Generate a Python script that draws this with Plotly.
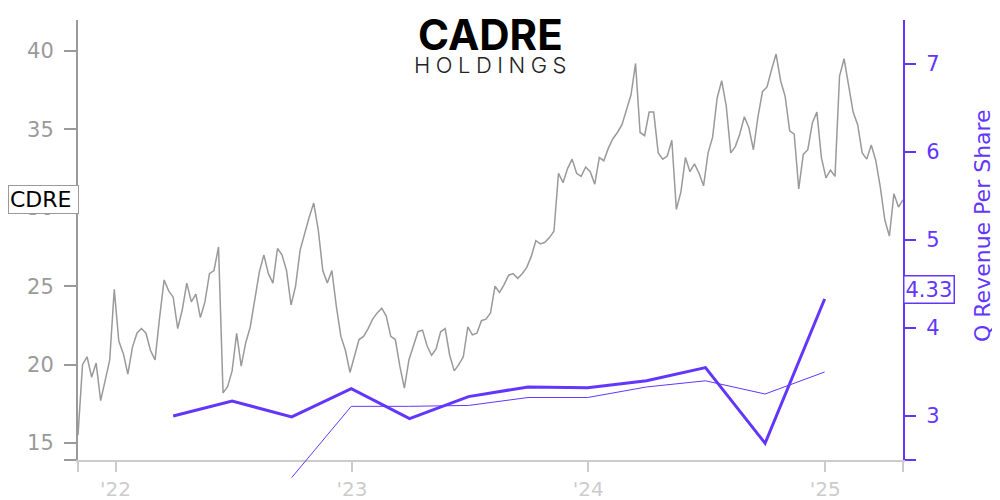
import plotly.graph_objects as go
import pandas as pd

# ---------------- data ----------------
price_start = "2021-11-04"
cdre_price = [
    15.5, 20.0, 20.5, 19.2, 20.1, 17.7, 19.0, 20.3, 24.8, 21.5,
    20.7, 19.4, 21.1, 22.0, 22.3, 22.0, 20.9, 20.3, 23.0, 25.4,
    24.7, 24.3, 22.3, 23.5, 25.2, 24.0, 24.5, 23.0, 24.0, 25.8,
    26.0, 27.5, 18.2, 18.6, 19.6, 22.0, 19.9, 21.4, 22.4, 24.3,
    25.9, 27.0, 25.8, 25.2, 27.4, 27.0, 26.0, 23.8, 25.0, 27.3,
    28.4, 29.4, 30.3, 28.6, 26.0, 25.2, 26.0, 23.7, 21.8, 20.9,
    19.5, 20.5, 21.6, 21.8, 22.3, 22.9, 23.3, 23.6, 23.1, 21.8,
    21.6, 19.9, 18.5, 20.3, 21.2, 22.1, 22.2, 21.2, 20.6, 21.0,
    22.1, 22.3, 20.6, 19.6, 20.0, 20.5, 22.4, 21.9, 22.0, 22.8,
    22.9, 23.3, 25.0, 24.6, 25.1, 25.7, 25.8, 25.5, 25.8, 26.2,
    26.9, 27.9, 27.7, 27.8, 28.1, 28.5, 32.2, 31.6, 32.5, 33.1,
    32.2, 32.0, 32.6, 32.3, 31.5, 33.2, 33.0, 33.8, 34.4, 34.8,
    35.3, 36.2, 37.2, 39.2, 34.8, 34.6, 36.1, 36.1, 33.5, 33.1,
    33.3, 34.3, 29.9, 31.0, 33.2, 32.3, 32.8, 32.2, 31.4, 33.5,
    34.5, 37.0, 38.1, 36.5, 33.5, 33.9, 34.7, 35.8, 35.1, 33.7,
    35.8, 37.4, 37.7, 38.8, 39.8, 38.1, 37.1, 34.9, 34.7, 31.2,
    33.4, 33.7, 35.4, 36.1, 33.2, 31.9, 32.4, 32.0, 38.4, 39.5,
    37.7, 36.1, 35.3, 33.5, 33.1, 34.0, 33.0, 31.3, 29.2, 28.2,
    30.9, 30.05, 30.5,
]
price_dates = pd.date_range(price_start, periods=len(cdre_price), freq="7D")

quarter_dates = [
    "2022-03-31", "2022-06-30", "2022-09-30", "2022-12-31",
    "2023-03-31", "2023-06-30", "2023-09-30", "2023-12-31",
    "2024-03-31", "2024-06-30", "2024-09-30", "2024-12-31",
]
rev_per_share = [3.00, 3.17, 2.99, 3.31, 2.97, 3.22, 3.33, 3.32, 3.40, 3.55, 2.69, 4.33]
avg_dates = quarter_dates[2:]
avg_rev_per_share = [2.30, 3.11, 3.11, 3.12, 3.21, 3.21, 3.33, 3.40, 3.25, 3.50]

year_ticks = ["2022-01-01", "2023-01-01", "2024-01-01", "2025-01-01"]
year_labels = ["'22", "'23", "'24", "'25"]
left_ticks = [15, 20, 25, 30, 35, 40]
right_ticks = [3, 4, 5, 6, 7]

# ---------------- style / layout (screen pixel coordinates) ----------------
OFF = 8                      # page body margin
SCREEN_W, SCREEN_H = 1000, 500
W, H = SCREEN_W - OFF, SCREEN_H - OFF
PLOT_L, PLOT_R, PLOT_T = 78, 903, 20   # screen px of plot area
AXIS_Y = 460                            # screen px of x-axis line
PLOT_B = 485                            # bottom of (extended) plot area

M_L, M_R, M_T, M_B = PLOT_L - OFF, SCREEN_W - PLOT_R, PLOT_T - OFF, SCREEN_H - PLOT_B

PURPLE = "#6236FF"
GREY = "#9a9a9a"
LIGHT = "#cccccc"
FONT = "DejaVu Sans"

plot_w = PLOT_R - PLOT_L
plot_h = PLOT_B - PLOT_T
main_bottom = (PLOT_B - AXIS_Y) / plot_h

left_range = [13.92, 41.97]
right_range = [2.5, 7.5]
px_per_unit = (AXIS_Y - PLOT_T) / (right_range[1] - right_range[0])
y3_range = [right_range[1] - plot_h / px_per_unit, right_range[1]]


def px_x(x):
    return (x - PLOT_L) / plot_w


def px_y(y):
    return (PLOT_B - y) / plot_h


x_range = [price_dates[0], price_dates[-1]]

fig = go.Figure()
fig.add_trace(go.Scatter(
    x=price_dates, y=cdre_price, mode="lines",
    line=dict(color=GREY, width=1.5), xaxis="x", yaxis="y", showlegend=False,
))
fig.add_trace(go.Scatter(
    x=avg_dates, y=avg_rev_per_share, mode="lines",
    line=dict(color=PURPLE, width=1), xaxis="x", yaxis="y3", showlegend=False,
))
fig.add_trace(go.Scatter(
    x=quarter_dates, y=rev_per_share, mode="lines",
    line=dict(color=PURPLE, width=3), xaxis="x", yaxis="y2", showlegend=False,
))

fig.update_layout(
    width=W, height=H,
    margin=dict(l=M_L, r=M_R, t=M_T, b=M_B, autoexpand=False),
    paper_bgcolor="white", plot_bgcolor="rgba(0,0,0,0)",
    font=dict(family=FONT),
    xaxis=dict(
        range=x_range, domain=[0, 1], anchor="y",
        showgrid=False, zeroline=False,
        showline=True, linecolor=LIGHT, linewidth=2,
        ticks="outside", ticklen=10, tickwidth=2, tickcolor=LIGHT,
        tickvals=[x_range[0]] + year_ticks + [x_range[1]],
        ticktext=[""] + year_labels + [""],
        tickfont=dict(color=LIGHT, size=20, family=FONT),
    ),
    yaxis=dict(
        range=left_range, domain=[main_bottom, 1], anchor="x",
        showgrid=False, zeroline=False,
        showline=True, linecolor=GREY, linewidth=2,
        ticks="outside", ticklen=12, tickwidth=2, tickcolor=GREY,
        tickvals=[left_range[0]] + left_ticks,
        ticktext=[""] + [str(v) for v in left_ticks],
        tickfont=dict(color=GREY, size=21, family=FONT),
        ticklabelstandoff=6,
    ),
    yaxis2=dict(
        range=right_range, overlaying="y", side="right", anchor="x",
        showgrid=False, zeroline=False,
        showline=True, linecolor=PURPLE, linewidth=2,
        ticks="outside", ticklen=11, tickwidth=2, tickcolor=PURPLE,
        tickvals=[right_range[0]] + right_ticks,
        ticktext=[""] + [str(v) for v in right_ticks],
        tickfont=dict(color=PURPLE, size=21, family=FONT),
        ticklabelstandoff=6,
    ),
    yaxis3=dict(
        range=y3_range, domain=[0, 1], anchor="x", visible=False,
        showgrid=False, zeroline=False,
    ),
)

annotations = [
    dict(text="CDRE", xref="paper", yref="y", x=px_x(OFF), y=cdre_price[-1],
         xanchor="left", yanchor="middle", showarrow=False, width=67, align="left",
         font=dict(color="black", size=22, family=FONT),
         bgcolor="white", bordercolor=GREY, borderwidth=1, borderpad=1),
    dict(text="4.33", xref="paper", yref="y2", x=1, y=rev_per_share[-1],
         xanchor="left", yanchor="middle", yshift=9, showarrow=False,
         font=dict(color=PURPLE, size=21, family=FONT),
         bgcolor="white", bordercolor=PURPLE, borderwidth=1.5, borderpad=1),
    dict(text="Q Revenue Per Share", xref="paper", yref="paper",
         x=px_x(982), y=px_y(226), textangle=-90, showarrow=False,
         xanchor="center", yanchor="middle",
         font=dict(color=PURPLE, size=22, family=FONT)),
    dict(text="<b>CADRE</b>", xref="paper", yref="paper",
         x=px_x(490), y=px_y(34), showarrow=False, xanchor="center", yanchor="middle",
         font=dict(color="black", size=42, family="Inter", weight=900)),
    dict(text="H\u2005O\u2005L\u2005D\u2005I\u2005N\u2005G\u2005S", xref="paper", yref="paper",
         x=px_x(490), y=px_y(65), showarrow=False, xanchor="center", yanchor="middle",
         font=dict(color="#222222", size=22, family="Inter", weight=300)),
]
fig.update_layout(annotations=annotations)

fig.write_html("out.html")
